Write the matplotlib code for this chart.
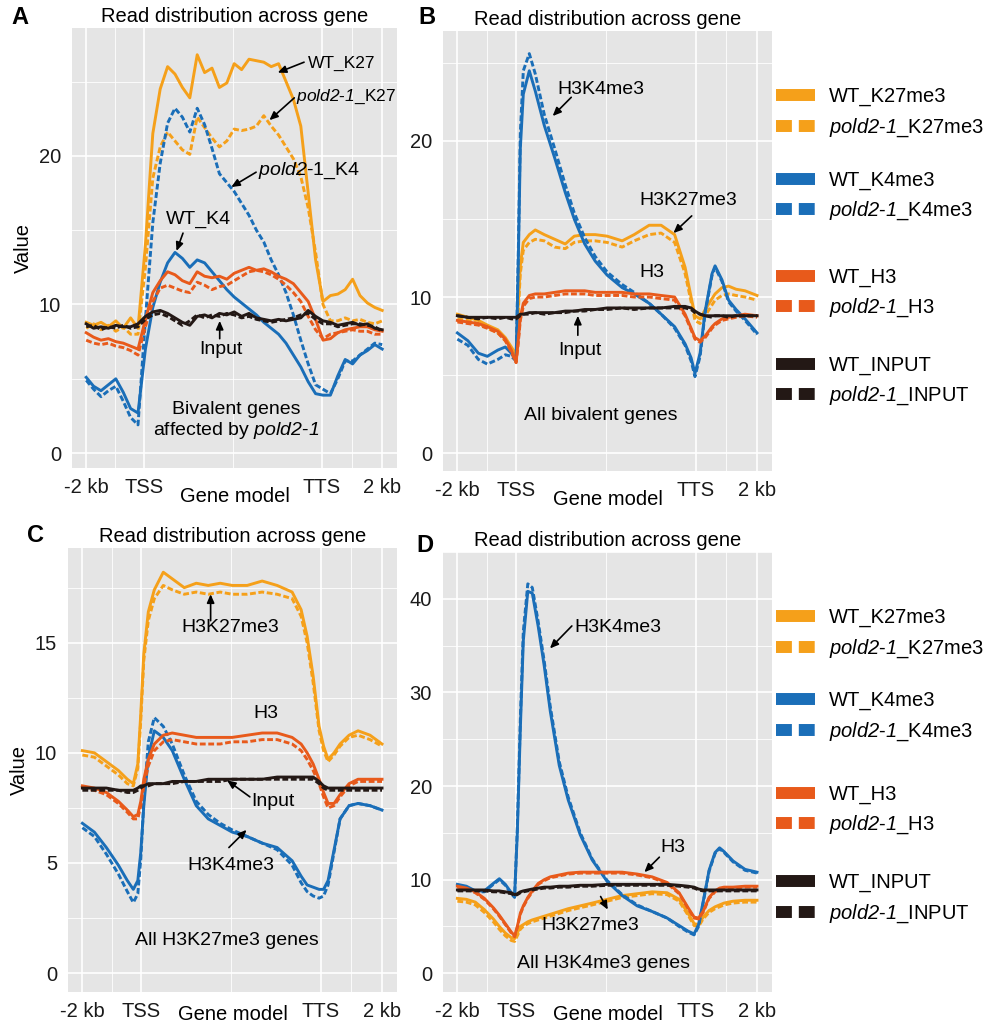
import numpy as np
import matplotlib
matplotlib.use("Agg")
import matplotlib.pyplot as plt
from matplotlib.lines import Line2D

plt.rcParams['font.family'] = ['Liberation Sans', 'DejaVu Sans']
plt.rcParams['mathtext.fontset'] = 'custom'
# le mode math ne sert qu'aux noms de mutant en italique (chiffres compris)
plt.rcParams['mathtext.rm'] = 'Liberation Sans:italic'
plt.rcParams['mathtext.it'] = 'Liberation Sans:italic'

# couleurs des marques
C_K27 = '#F5A01A'
C_K4 = '#1A6EB8'
C_H3 = '#E85A1B'
C_IN = '#231815'

# axe x commun : -2 kb, TSS, TTS, 2 kb
tick_pos = [0, 19.5, 79.5, 100]
tick_lab = ['-2 kb', 'TSS', 'TTS', '2 kb']

# ---- panneau A : gènes bivalents affectés par pold2-1
a_x = np.linspace(0, 100, 41)
a_wt_k27 = [8.8, 8.6, 8.8, 8.5, 8.9, 8.4, 9.1, 8.4, 14.0, 21.5, 24.5, 26.0, 25.5, 24.6, 23.9, 26.8, 25.6, 25.9, 24.6, 24.9,
            26.2, 25.8, 26.5, 26.4, 26.3, 26.0, 26.2, 25.0, 23.8, 22.0, 17.5, 13.0, 10.2, 10.6, 10.7, 11.0, 11.7, 10.6, 10.1, 9.8, 9.6]
a_pd_k27 = [8.4, 8.7, 8.3, 8.6, 8.2, 8.5, 8.0, 8.0, 12.5, 18.5, 20.6, 21.6, 21.0, 20.4, 20.1, 22.6, 21.9, 21.2, 20.6, 21.0,
            21.8, 21.7, 21.8, 22.0, 22.7, 22.0, 21.4, 20.6, 19.8, 18.6, 16.5, 13.5, 10.0, 8.9, 8.9, 9.1, 8.9, 9.0, 8.8, 8.7, 8.9]
a_wt_k4 = [5.1, 4.5, 4.2, 4.6, 5.0, 4.1, 3.0, 2.7, 7.0, 9.8, 11.5, 12.8, 13.5, 13.1, 12.5, 13.0, 12.8, 12.2, 11.6, 11.0,
           10.5, 10.1, 9.7, 9.3, 8.8, 8.4, 8.0, 7.4, 6.6, 5.8, 4.8, 4.0, 3.9, 3.9, 5.2, 6.3, 6.0, 6.6, 6.9, 7.3, 7.0]
a_pd_k4 = [4.9, 4.3, 3.8, 4.2, 4.5, 3.5, 2.4, 1.9, 9.0, 15.5, 19.5, 22.2, 23.2, 22.6, 21.6, 23.2, 22.1, 20.5, 18.8, 18.2,
           17.6, 16.8, 16.0, 15.0, 14.2, 13.0, 12.0, 10.8, 9.3, 7.6, 6.0, 4.6, 4.3, 4.0, 5.0, 6.2, 6.2, 6.6, 7.0, 7.4, 7.3]
a_wt_h3 = [8.1, 7.8, 7.6, 7.7, 7.5, 7.4, 7.2, 7.0, 9.0, 10.8, 11.6, 12.2, 12.0, 11.6, 11.4, 12.2, 11.9, 11.8, 11.9, 11.7,
           12.1, 12.3, 12.5, 12.3, 12.4, 12.2, 11.9, 11.7, 11.4, 10.8, 10.2, 9.0, 7.6, 7.7, 8.1, 8.3, 8.4, 8.5, 8.5, 8.3, 8.2]
a_pd_h3 = [7.6, 7.4, 7.3, 7.4, 7.2, 7.1, 6.9, 6.6, 8.5, 10.2, 11.1, 11.3, 11.1, 10.9, 10.8, 11.5, 11.3, 11.0, 11.2, 11.3,
           11.6, 11.9, 12.2, 12.3, 12.2, 12.0, 11.7, 11.3, 10.8, 10.2, 9.2, 8.3, 7.7, 8.0, 8.1, 8.2, 8.3, 8.2, 8.2, 8.0, 8.0]
a_wt_in = [8.7, 8.4, 8.5, 8.4, 8.6, 8.5, 8.5, 8.7, 9.2, 9.5, 9.6, 9.4, 9.1, 8.8, 8.6, 9.2, 9.3, 9.1, 9.4, 9.3,
           9.5, 9.2, 9.4, 9.1, 9.0, 8.9, 9.0, 8.9, 9.0, 9.1, 9.6, 9.2, 8.9, 8.8, 8.6, 8.7, 8.8, 8.6, 8.7, 8.4, 8.3]
a_pd_in = [8.5, 8.6, 8.3, 8.5, 8.4, 8.6, 8.4, 8.5, 9.0, 9.3, 9.4, 9.2, 8.9, 8.6, 8.9, 9.3, 9.1, 9.3, 9.2, 9.4,
           9.3, 9.1, 9.2, 9.0, 8.9, 8.8, 8.9, 9.0, 9.1, 9.3, 9.4, 9.0, 8.7, 8.7, 8.5, 8.6, 8.7, 8.7, 8.6, 8.5, 8.2]

# ---- panneau B : tous les gènes bivalents
b_x = [0, 3.5, 7, 10, 13.5, 16, 18, 19.6, 20.3, 21, 22, 24, 26, 29, 32.5, 36, 39, 42.5, 46, 50,
       55, 59, 64, 68, 72.5, 76, 78, 79.3, 81, 82.7, 85, 86, 88.3, 90.5, 93, 96, 100]
b_wt_k4 = [7.7, 7.2, 6.4, 6.2, 6.6, 6.8, 6.4, 5.9, 12.0, 19.5, 23.0, 24.5, 23.2, 21.0, 18.9, 16.7, 15.0, 13.4, 12.3, 11.4,
           10.6, 10.2, 9.6, 8.9, 8.1, 7.0, 6.1, 5.1, 6.4, 9.1, 11.5, 12.0, 11.1, 9.8, 9.2, 8.6, 7.7]
b_pd_k4 = [7.3, 6.9, 6.0, 5.7, 6.0, 6.3, 6.2, 5.9, 12.5, 20.5, 24.5, 25.6, 24.3, 21.7, 19.5, 17.2, 15.4, 13.8, 12.6, 11.6,
           10.8, 10.3, 9.6, 8.9, 8.0, 6.9, 5.9, 4.9, 6.2, 9.0, 11.4, 11.9, 11.0, 9.7, 9.1, 8.5, 7.6]
b_wt_k27 = [8.9, 8.7, 8.5, 8.2, 7.9, 7.4, 6.8, 6.3, 9.5, 12.0, 13.5, 14.0, 14.3, 14.0, 13.7, 13.4, 13.9, 14.0, 14.0, 13.9,
            13.6, 14.0, 14.6, 14.6, 14.0, 11.9, 10.0, 8.8, 8.6, 9.2, 9.9, 10.2, 10.6, 10.7, 10.5, 10.4, 10.1]
b_pd_k27 = [8.6, 8.5, 8.3, 8.0, 7.7, 7.2, 6.6, 6.1, 9.0, 11.5, 13.0, 13.5, 13.7, 13.6, 13.2, 13.1, 13.5, 13.6, 13.6, 13.5,
            13.2, 13.6, 14.0, 14.1, 13.5, 11.5, 9.7, 8.5, 8.3, 8.8, 9.5, 9.8, 10.1, 10.2, 10.1, 10.0, 9.8]
b_wt_h3 = [8.5, 8.4, 8.3, 8.1, 7.8, 7.3, 6.6, 5.8, 7.2, 8.7, 9.6, 10.1, 10.2, 10.2, 10.3, 10.4, 10.4, 10.4, 10.3, 10.3,
           10.3, 10.2, 10.2, 10.1, 10.0, 8.9, 8.0, 7.4, 7.2, 7.5, 8.1, 8.3, 8.6, 8.7, 8.8, 8.9, 8.8]
b_pd_h3 = [8.4, 8.3, 8.2, 8.0, 7.7, 7.2, 6.5, 5.8, 7.0, 8.5, 9.4, 9.9, 10.0, 10.0, 10.1, 10.2, 10.2, 10.2, 10.1, 10.1,
           10.1, 10.0, 10.0, 9.9, 9.8, 8.8, 7.9, 7.3, 7.1, 7.4, 8.0, 8.2, 8.5, 8.6, 8.7, 8.8, 8.7]
b_wt_in = [8.8, 8.7, 8.7, 8.7, 8.7, 8.7, 8.7, 8.7, 8.8, 8.9, 8.9, 9.0, 9.0, 9.0, 9.0, 9.1, 9.1, 9.2, 9.2, 9.3,
           9.3, 9.3, 9.3, 9.3, 9.4, 9.4, 9.3, 9.1, 8.9, 8.8, 8.8, 8.8, 8.8, 8.8, 8.8, 8.8, 8.8]
b_pd_in = [8.8, 8.7, 8.6, 8.7, 8.6, 8.7, 8.6, 8.6, 8.7, 8.8, 8.9, 8.9, 9.0, 8.9, 9.0, 9.0, 9.1, 9.1, 9.2, 9.2,
           9.3, 9.2, 9.3, 9.3, 9.3, 9.3, 9.2, 9.0, 8.9, 8.8, 8.7, 8.8, 8.8, 8.7, 8.8, 8.8, 8.8]

# ---- panneau C : tous les gènes H3K27me3
c_x = [0, 4, 8, 12, 15, 17, 18.5, 19.5, 20.5, 22, 24, 27, 30, 34, 38, 42, 46, 50, 55, 60,
       65, 70, 73, 75, 77, 79, 80.5, 82, 84, 86, 89, 92, 96, 100]
c_wt_k27 = [10.1, 10.0, 9.6, 9.2, 8.8, 8.6, 9.5, 11.8, 14.5, 16.4, 17.4, 18.2, 17.9, 17.5, 17.7, 17.6, 17.7, 17.6, 17.6, 17.8,
            17.6, 17.3, 16.5, 15.3, 13.5, 11.2, 10.3, 9.7, 10.0, 10.4, 10.8, 11.0, 10.8, 10.4]
c_pd_k27 = [9.9, 9.8, 9.4, 9.0, 8.6, 8.5, 9.3, 11.5, 14.2, 16.0, 17.0, 17.6, 17.4, 17.2, 17.3, 17.2, 17.3, 17.2, 17.2, 17.3,
            17.2, 17.0, 16.2, 15.0, 13.2, 11.0, 10.1, 9.6, 9.9, 10.3, 10.7, 10.8, 10.6, 10.3]
c_wt_h3 = [8.5, 8.4, 8.2, 7.8, 7.4, 7.1, 7.2, 7.8, 8.8, 9.7, 10.4, 10.8, 10.9, 10.8, 10.7, 10.7, 10.7, 10.7, 10.8, 10.9,
           10.9, 10.7, 10.4, 10.0, 9.5, 8.8, 8.2, 7.7, 7.7, 8.1, 8.6, 8.8, 8.8, 8.8]
c_pd_h3 = [8.4, 8.3, 8.1, 7.7, 7.3, 7.0, 7.0, 7.6, 8.5, 9.4, 10.1, 10.5, 10.6, 10.5, 10.4, 10.4, 10.4, 10.5, 10.5, 10.6,
           10.6, 10.4, 10.1, 9.7, 9.2, 8.6, 8.0, 7.5, 7.6, 8.0, 8.5, 8.7, 8.7, 8.7]
c_wt_k4 = [6.8, 6.4, 5.7, 4.9, 4.2, 3.8, 4.2, 5.5, 7.6, 9.8, 11.0, 10.7, 10.1, 8.8, 7.6, 7.0, 6.7, 6.4, 6.2, 5.9,
           5.7, 5.1, 4.4, 4.0, 3.9, 3.8, 3.8, 4.2, 5.6, 7.0, 7.6, 7.7, 7.6, 7.4]
c_pd_k4 = [6.6, 6.2, 5.4, 4.5, 3.7, 3.2, 3.6, 5.2, 7.8, 10.5, 11.6, 11.2, 10.4, 9.0, 7.8, 7.2, 6.8, 6.5, 6.2, 5.9,
           5.6, 4.9, 4.1, 3.7, 3.5, 3.4, 3.5, 4.0, 5.5, 7.0, 7.6, 7.7, 7.6, 7.4]
c_wt_in = [8.4, 8.4, 8.4, 8.3, 8.3, 8.3, 8.4, 8.5, 8.5, 8.6, 8.6, 8.6, 8.7, 8.7, 8.7, 8.8, 8.8, 8.8, 8.8, 8.8,
           8.9, 8.9, 8.9, 8.9, 8.9, 8.7, 8.5, 8.4, 8.4, 8.4, 8.4, 8.4, 8.4, 8.4]
c_pd_in = [8.3, 8.3, 8.3, 8.3, 8.2, 8.2, 8.3, 8.4, 8.5, 8.5, 8.6, 8.6, 8.6, 8.7, 8.7, 8.7, 8.7, 8.8, 8.8, 8.8,
           8.8, 8.8, 8.8, 8.8, 8.8, 8.6, 8.4, 8.3, 8.3, 8.3, 8.3, 8.3, 8.3, 8.3]

# ---- panneau D : tous les gènes H3K4me3
d_x = [0, 3, 6, 9, 12, 14, 16, 18, 19.1, 20, 21, 22, 23.5, 25, 27, 29, 31, 34, 37, 41,
       45, 50, 55, 60, 65, 70, 74, 77, 79, 80.5, 82, 84, 86, 87.5, 89, 92, 96, 100]
d_wt_k4 = [9.5, 9.3, 8.8, 8.8, 9.6, 10.1, 9.5, 8.6, 8.2, 15.0, 26.0, 35.5, 40.8, 40.6, 37.0, 32.8, 28.0, 22.2, 18.5, 14.8,
           12.1, 9.8, 8.3, 7.2, 6.6, 5.9, 5.1, 4.5, 4.2, 5.2, 7.6, 11.0, 12.9, 13.4, 13.0, 12.0, 11.1, 10.8]
d_pd_k4 = [9.3, 9.2, 8.7, 8.7, 9.5, 10.0, 9.4, 8.5, 8.1, 15.5, 27.0, 36.5, 41.6, 41.2, 37.5, 33.3, 28.5, 22.6, 18.8, 15.0,
           12.2, 9.9, 8.4, 7.3, 6.6, 5.9, 5.0, 4.4, 4.1, 5.0, 7.5, 10.9, 12.8, 13.3, 12.9, 11.9, 11.0, 10.7]
d_wt_h3 = [9.3, 9.1, 8.7, 8.0, 7.0, 6.2, 5.3, 4.4, 4.0, 5.0, 6.4, 7.2, 8.1, 8.8, 9.6, 10.0, 10.3, 10.5, 10.7, 10.8,
           10.8, 10.8, 10.8, 10.6, 10.3, 9.7, 8.6, 7.0, 6.0, 5.9, 6.6, 8.1, 8.8, 9.1, 9.2, 9.2, 9.3, 9.3]
d_pd_h3 = [9.2, 9.0, 8.6, 7.9, 6.9, 6.1, 5.2, 4.3, 3.9, 4.9, 6.3, 7.1, 8.0, 8.7, 9.5, 9.9, 10.2, 10.4, 10.6, 10.7,
           10.7, 10.7, 10.7, 10.5, 10.2, 9.6, 8.5, 6.9, 5.9, 5.8, 6.5, 8.0, 8.7, 9.0, 9.1, 9.1, 9.2, 9.2]
d_wt_k27 = [8.0, 7.9, 7.6, 6.8, 5.8, 5.0, 4.3, 3.8, 3.7, 4.3, 5.0, 5.2, 5.5, 5.7, 5.9, 6.1, 6.3, 6.6, 6.9, 7.2,
            7.5, 7.9, 8.3, 8.5, 8.7, 8.6, 7.9, 6.4, 5.3, 5.2, 6.0, 6.7, 7.1, 7.3, 7.5, 7.7, 7.8, 7.8]
d_pd_k27 = [7.7, 7.6, 7.3, 6.5, 5.5, 4.7, 4.0, 3.5, 3.4, 4.0, 4.7, 5.0, 5.3, 5.5, 5.7, 5.9, 6.1, 6.4, 6.7, 7.0,
            7.3, 7.7, 8.1, 8.3, 8.5, 8.4, 7.7, 6.2, 5.1, 5.0, 5.8, 6.5, 6.9, 7.1, 7.3, 7.5, 7.6, 7.6]
d_wt_in = [8.9, 8.9, 8.9, 8.9, 8.8, 8.8, 8.7, 8.6, 8.4, 8.5, 8.7, 8.8, 8.9, 9.0, 9.1, 9.2, 9.2, 9.3, 9.3, 9.4,
           9.4, 9.5, 9.5, 9.5, 9.5, 9.5, 9.4, 9.3, 9.2, 9.0, 8.9, 8.9, 8.9, 8.9, 8.9, 8.9, 8.9, 8.9]
d_pd_in = [8.8, 8.8, 8.8, 8.8, 8.7, 8.7, 8.6, 8.5, 8.3, 8.4, 8.6, 8.7, 8.8, 8.9, 9.0, 9.1, 9.1, 9.2, 9.2, 9.3,
           9.3, 9.4, 9.4, 9.4, 9.4, 9.4, 9.3, 9.2, 9.1, 8.9, 8.8, 8.8, 8.8, 8.8, 8.8, 8.8, 8.8, 8.8]

W, H = 989, 1026
FS = 14.5
LW = 2.1
DASH = (2.0, 0.9)
MUT = r"$pold2$-$1$"


def box(left, top, right, bottom):
    # position en pixels -> fraction de la figure
    return [left / W, 1 - bottom / H, (right - left) / W, (bottom - top) / H]


def panel(ax, x, k27, k27p, k4, k4p, h3, h3p, inp, inpp, ylim, yticks, ylabel, xpad):
    ax.set_facecolor('#E5E5E5')
    for s in ax.spines.values():
        s.set_visible(False)
    ax.plot(x, k27, color=C_K27, lw=LW)
    ax.plot(x, k27p, color=C_K27, lw=LW, dashes=DASH)
    ax.plot(x, k4, color=C_K4, lw=LW)
    ax.plot(x, k4p, color=C_K4, lw=LW, dashes=DASH)
    ax.plot(x, h3, color=C_H3, lw=LW)
    ax.plot(x, h3p, color=C_H3, lw=LW, dashes=DASH)
    ax.plot(x, inp, color=C_IN, lw=LW)
    ax.plot(x, inpp, color=C_IN, lw=LW, dashes=DASH)
    ax.set_xlim(-4.8, 105)
    ax.set_ylim(*ylim)
    ax.set_xticks(tick_pos)
    ax.set_xticklabels(tick_lab)
    ax.set_xticks([9.75, 49.5, 89.75], minor=True)
    ax.set_yticks(yticks)
    ax.set_yticks([(yticks[i] + yticks[i + 1]) / 2 for i in range(len(yticks) - 1)]
                  + [yticks[-1] + (yticks[1] - yticks[0]) / 2], minor=True)
    ax.tick_params(which='both', length=0, labelsize=FS, colors='#1a1a1a')
    ax.tick_params(axis='x', pad=7)
    ax.tick_params(axis='y', pad=8)
    ax.grid(which='major', color='white', lw=1.2)
    ax.grid(which='minor', color='white', lw=0.6)
    ax.set_axisbelow(True)
    ax.set_title("Read distribution across gene", fontsize=FS, pad=4)
    ax.set_xlabel("Gene model", fontsize=FS, labelpad=xpad)
    if ylabel:
        ax.set_ylabel("Value", fontsize=FS, labelpad=4)


def fleche(ax, tail, head):
    ax.annotate("", xy=head, xytext=tail,
                arrowprops=dict(arrowstyle='-|>,head_length=0.5,head_width=0.22',
                                color='black', lw=1.2, shrinkA=0, shrinkB=0))


fig = plt.figure(figsize=(W / 100, H / 100), dpi=100)

axA = fig.add_axes(box(72, 28, 397, 468))
panel(axA, a_x, a_wt_k27, a_pd_k27, a_wt_k4, a_pd_k4, a_wt_h3, a_pd_h3, a_wt_in, a_pd_in,
      (-1.0, 28.6), [0, 10, 20], True, -7)
axA.text(74.8, 26.2, "WT_K27", fontsize=12.5, va='center')
fleche(axA, (73.6, 26.3), (64.7, 25.6))
axA.text(70.9, 24.0, MUT + "_K27", fontsize=12.5, va='center')
fleche(axA, (70.3, 23.9), (61.9, 22.4))
axA.text(58.0, 19.0, r"$pold2$-1_K4", fontsize=14, va='center')
fleche(axA, (57.4, 18.9), (49.0, 17.9))
axA.text(37.8, 15.7, "WT_K4", fontsize=14, ha='center', va='center')
fleche(axA, (32.7, 14.8), (30.5, 13.6))
axA.text(45.6, 7.0, "Input", fontsize=14, ha='center', va='center')
fleche(axA, (45.1, 7.7), (45.1, 8.9))
axA.text(50.7, 2.15, "Bivalent genes\naffected by " + MUT,
         fontsize=14, ha='center', va='center', linespacing=1.1)

axB = fig.add_axes(box(443, 31, 772, 471))
panel(axB, b_x, b_wt_k27, b_pd_k27, b_wt_k4, b_pd_k4, b_wt_h3, b_pd_h3, b_wt_in, b_pd_in,
      (-1.15, 27.05), [0, 10, 20], False, -7)
axB.text(48.0, 23.3, "H3K4me3", fontsize=14, ha='center', va='center')
fleche(axB, (38.0, 22.8), (31.8, 21.6))
axB.text(77.0, 16.2, "H3K27me3", fontsize=14, ha='center', va='center')
fleche(axB, (78.2, 15.2), (72.1, 14.1))
axB.text(64.8, 11.6, "H3", fontsize=14, ha='center', va='center')
axB.text(40.8, 6.6, "Input", fontsize=14, ha='center', va='center')
fleche(axB, (40.2, 7.55), (40.2, 8.8))
axB.text(48.0, 2.4, "All bivalent genes", fontsize=14, ha='center', va='center')

axC = fig.add_axes(box(68, 548, 397, 992))
panel(axC, c_x, c_wt_k27, c_pd_k27, c_wt_k4, c_pd_k4, c_wt_h3, c_pd_h3, c_wt_in, c_pd_in,
      (-0.86, 19.3), [0, 5, 10, 15], True, -11)
axC.text(49.4, 15.7, "H3K27me3", fontsize=14, ha='center', va='center')
fleche(axC, (42.8, 16.0), (42.8, 17.2))
axC.text(61.1, 11.8, "H3", fontsize=14, ha='center', va='center')
axC.text(56.3, 7.8, "Input", fontsize=14, va='center')
fleche(axC, (55.9, 8.0), (48.3, 8.75))
axC.text(49.4, 4.9, "H3K4me3", fontsize=14, ha='center', va='center')
fleche(axC, (48.9, 5.7), (54.8, 6.5))
axC.text(48.3, 1.5, "All H3K27me3 genes", fontsize=14, ha='center', va='center')

axD = fig.add_axes(box(443, 552, 772, 992))
panel(axD, d_x, d_wt_k27, d_pd_k27, d_wt_k4, d_pd_k4, d_wt_h3, d_pd_h3, d_wt_in, d_pd_in,
      (-2.0, 44.1), [0, 10, 20, 30, 40], False, -11)
axD.text(53.4, 36.9, "H3K4me3", fontsize=14, ha='center', va='center')
fleche(axD, (38.2, 37.1), (30.9, 34.7))
axD.text(71.9, 13.4, "H3", fontsize=14, ha='center', va='center')
fleche(axD, (67.4, 12.4), (62.4, 10.8))
axD.text(44.4, 5.1, "H3K27me3", fontsize=14, ha='center', va='center')
fleche(axD, (47.8, 8.2), (50.2, 6.8))
axD.text(48.9, 1.0, "All H3K4me3 genes", fontsize=14, ha='center', va='center')

# lettres des panneaux
for lettre, px, py in [("A", 20, 18), ("B", 427, 17), ("C", 35, 535), ("D", 425, 545)]:
    fig.text(px / W, 1 - py / H, lettre, fontsize=17, fontweight='bold', ha='center', va='center')

# légendes (deux blocs identiques, un par rangée)
groupes = [(C_K27, "K27me3"), (C_K4, "K4me3"), (C_H3, "H3"), (C_IN, "INPUT")]
centres_haut = [113, 196.5, 293.5, 381.5]
centres_bas = [634, 717, 810.5, 899]
for centres in (centres_haut, centres_bas):
    for (col, nom), yc in zip(groupes, centres):
        h_wt = Line2D([], [], color=col, lw=8.6, solid_capstyle='butt')
        h_pd = Line2D([], [], color=col, lw=8.6, dashes=(1.33, 0.58), dash_capstyle='butt')
        fig.legend([h_wt, h_pd], ["WT_" + nom, MUT + "_" + nom],
                   loc='center left', bbox_to_anchor=(776 / W, 1 - yc / H),
                   frameon=False, fontsize=FS, borderpad=0, borderaxespad=0,
                   handlelength=1.94, handletextpad=0.7, labelspacing=0.5)

fig.savefig("out.png", dpi=100)
